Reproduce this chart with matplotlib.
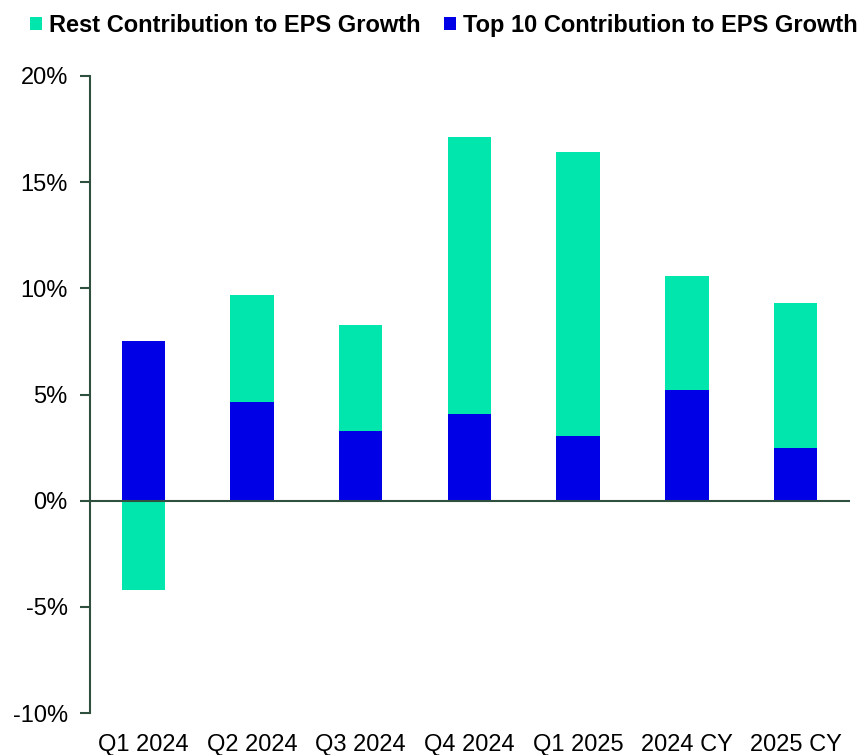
import matplotlib.pyplot as plt
from matplotlib.ticker import FuncFormatter

plt.rcParams['font.family'] = ['Liberation Sans', 'DejaVu Sans']

categories = ['Q1 2024', 'Q2 2024', 'Q3 2024', 'Q4 2024', 'Q1 2025', '2024 CY', '2025 CY']
top10 = [7.5, 4.67, 3.3, 4.1, 3.05, 5.2, 2.5]
rest = [-4.2, 5.0, 4.95, 13.05, 13.35, 5.37, 6.8]

teal = '#00E6AD'
blue = '#0000E6'
axis_col = '#2F4F3F'

fig = plt.figure(figsize=(8.6, 7.55), dpi=100, facecolor='white')
ax = fig.add_axes([90/860, 42/755, 760/860, 637/755])

x = list(range(len(categories)))
width = 0.4
# rest stacks on top of top10 when positive, below zero when negative
bottoms = [t if r >= 0 else 0 for t, r in zip(top10, rest)]
b1 = ax.bar(x, top10, width=width, color=blue, label='Top 10 Contribution to EPS Growth', zorder=2)
b2 = ax.bar(x, rest, width=width, bottom=bottoms, color=teal, label='Rest Contribution to EPS Growth', zorder=2)

ax.set_ylim(-10, 20)
ax.set_xlim(-0.49, 6.5)
ax.set_yticks([-10, -5, 0, 5, 10, 15, 20])
ax.yaxis.set_major_formatter(FuncFormatter(lambda v, p: f'{v:.0f}%'))
ax.axhline(0, color=axis_col, linewidth=1.5, zorder=3)

for s in ['top', 'right', 'bottom']:
    ax.spines[s].set_visible(False)
ax.spines['left'].set_color(axis_col)
ax.spines['left'].set_linewidth(1.5)
ax.tick_params(axis='y', colors=axis_col, length=7, width=1.5, labelsize=17, labelcolor='black', pad=9)
ax.tick_params(axis='x', length=0, labelsize=17, pad=15)
ax.set_xticks(x)
ax.set_xticklabels(categories)

fig.legend(handles=[b2, b1], loc='upper left', bbox_to_anchor=(0.01, 1.01), ncol=2,
           frameon=False, handlelength=0.5, handleheight=0.5, handletextpad=0.3,
           columnspacing=1.0, prop={'weight': 'bold', 'size': 17})

fig.savefig('out.png', dpi=100, facecolor='white')
